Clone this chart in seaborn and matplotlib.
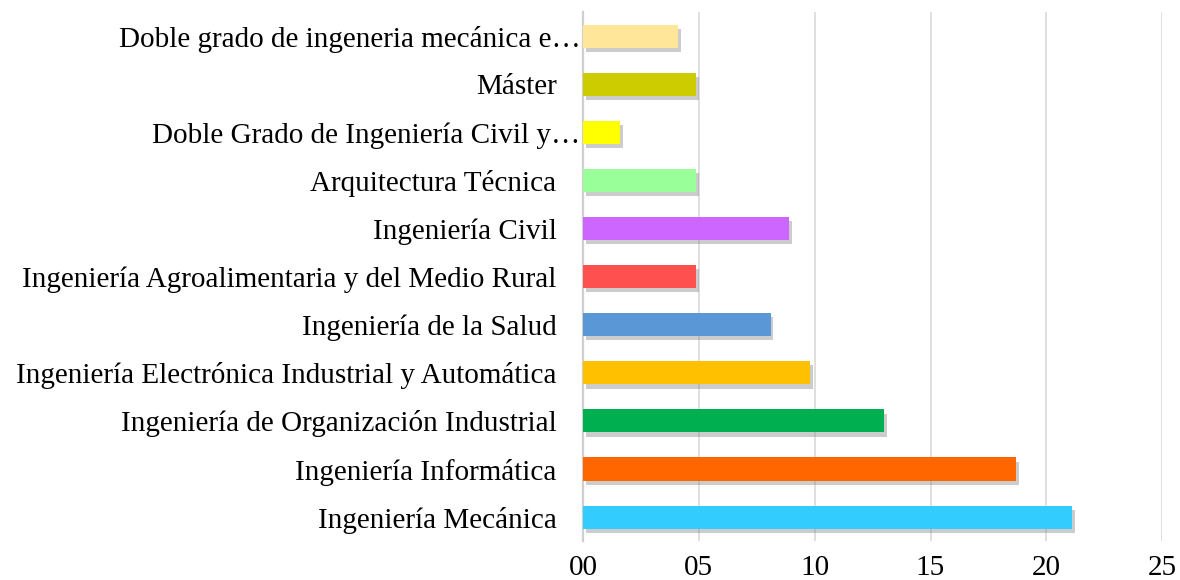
import matplotlib
matplotlib.use("Agg")
import matplotlib.pyplot as plt
import matplotlib.patheffects as pe
import matplotlib.transforms as mtransforms
import seaborn as sns
import pandas as pd

# ── Data ──────────────────────────────────────────────────────────────────────
categories = [
    "Doble grado de ingeneria mecánica e…",
    "Máster",
    "Doble Grado de Ingeniería Civil y…",
    "Arquitectura Técnica",
    "Ingeniería Civil",
    "Ingeniería Agroalimentaria y del Medio Rural",
    "Ingeniería de la Salud",
    "Ingeniería Electrónica Industrial y Automática",
    "Ingeniería de Organización Industrial",
    "Ingeniería Informática",
    "Ingeniería Mecánica",
]
values = [4.1, 4.9, 1.6, 4.9, 8.9, 4.9, 8.1, 9.8, 13.0, 18.7, 21.1]
colors = [
    "#FFE699", "#CCCC00", "#FFFF00", "#99FF99", "#CC66FF", "#FF5050",
    "#5A97D6", "#FFC000", "#00B050", "#FF6600", "#33CCFF",
]
x_ticks = [0, 5, 10, 15, 20, 25]
x_tick_labels = ["00", "05", "10", "15", "20", "25"]

df = pd.DataFrame({"carrera": categories, "pct": values})

# ── Plot ──────────────────────────────────────────────────────────────────────
sns.set_style("white")
plt.rcParams["font.family"] = ["Liberation Serif", "DejaVu Serif"]
plt.rcParams["text.color"] = "black"
plt.rcParams["xtick.color"] = "black"
plt.rcParams["ytick.color"] = "black"

fig = plt.figure(figsize=(11.8, 5.8), dpi=100)
ax = fig.add_axes([0.494, 0.067, 0.491, 0.912])

sns.barplot(
    data=df, y="carrera", x="pct", hue="carrera",
    palette=colors, orient="h", width=0.48, legend=False,
    saturation=1, ax=ax,
)

shadow = [pe.SimplePatchShadow(offset=(2, -3), shadow_rgbFace="#808080", alpha=0.4),
          pe.Normal()]
for patch in ax.patches:
    patch.set_edgecolor("none")
    patch.set_path_effects(shadow)
    patch.set_zorder(3)

ax.set_xlim(0, 25)
ax.set_ylim(10.5, -0.5)
ax.set_xticks(x_ticks)
ax.set_xticklabels(x_tick_labels)
ax.xaxis.grid(True, color="#d9d9d9", lw=1.2)
ax.set_axisbelow(True)
ax.set_xlabel("")
ax.set_ylabel("")

ax.tick_params(axis="y", length=0, pad=19, labelsize=21)
ax.tick_params(axis="x", length=0, pad=10, labelsize=21)

# truncated labels sit a bit closer to the axis, as in the original
shift = mtransforms.ScaledTranslation(24 / 100, 0, fig.dpi_scale_trans)
for lbl in ax.get_yticklabels():
    if lbl.get_text().endswith("…"):
        lbl.set_transform(lbl.get_transform() + shift)

for side in ["top", "right", "bottom"]:
    ax.spines[side].set_visible(False)
ax.spines["left"].set_color("#cfcfcf")
ax.spines["left"].set_linewidth(1.6)

fig.savefig("out.png", dpi=100)
